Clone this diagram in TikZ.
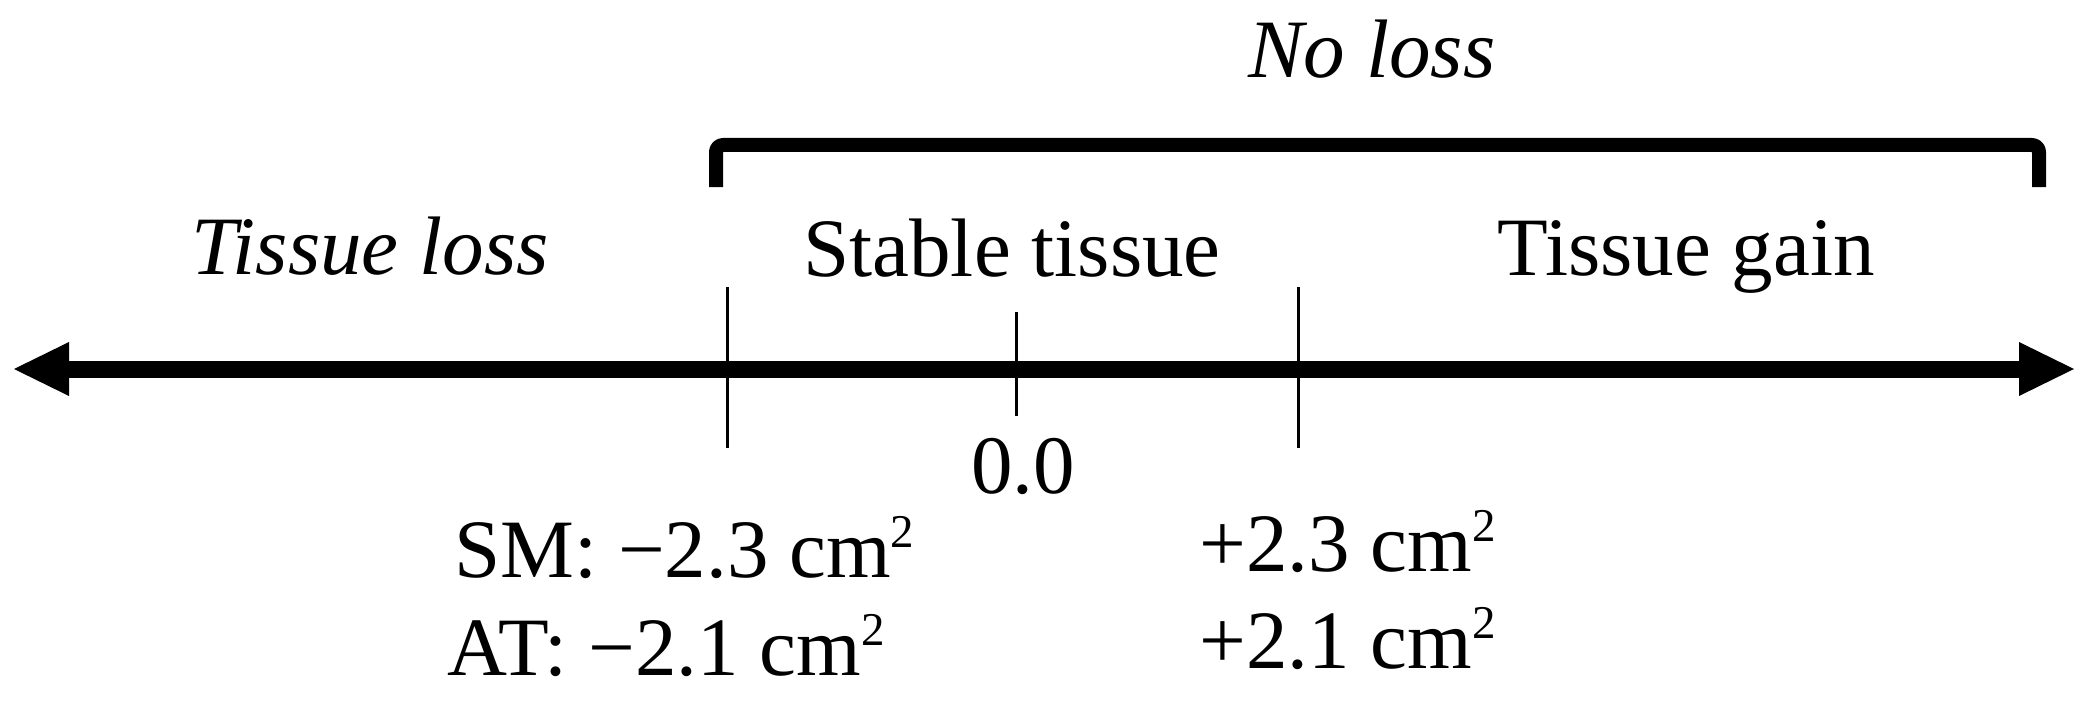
\documentclass[tikz,border=0pt]{standalone}
\usepackage{fontspec}
\setmainfont{Liberation Serif}
\newcommand\sqtwo{\raisebox{15pt}{\fontsize{23.5pt}{26pt}\selectfont 2}}
\begin{document}
\begin{tikzpicture}[x=0.5pt,y=-0.5pt,
  lbl/.style={inner sep=0pt, font=\fontsize{41.5pt}{48pt}\selectfont},
  axisline/.style={line width=8.5pt, line cap=butt},
  tickline/.style={line width=1.5pt},
  bracketline/.style={line width=7pt, line cap=butt, line join=round, rounded corners=3.5pt}]
\useasboundingbox (0,0) rectangle (2089,701);
% axis
\coordinate (Ltip) at (14,369);
\coordinate (Lback) at (69,369);
\coordinate (Rtip) at (2074,369);
\coordinate (Rback) at (2019,369);
\draw[axisline] (Lback) -- (Rback);
\fill (Ltip) -- (69,342) -- (69,396) -- cycle;
\fill (Rtip) -- (2019,342) -- (2019,396) -- cycle;
% ticks
\draw[tickline] (727,287) -- (727,448);
\draw[tickline] (1016,312) -- (1016,416);
\draw[tickline] (1298,287) -- (1298,448);
% bracket
\draw[bracketline] (716,187) -- (716,145) -- (2039,145) -- (2039,187);
% labels
\node[lbl, anchor=base] (noloss) at (1372,78) {\itshape No loss};
\node[lbl, anchor=base] (tloss) at (370,274) {\itshape Tissue loss};
\node[lbl, anchor=base] (stable) at (1012,276) {Stable tissue};
\node[lbl, anchor=base] (gain) at (1686,275) {Tissue gain};
\node[lbl, anchor=base] (zero) at (1023,493) {0.0};
\node[lbl, anchor=base west] (sm) at (454,577) {SM: −2.3 cm\sqtwo};
\node[lbl, anchor=base west] (at) at (447,675) {AT: −2.1 cm\sqtwo};
\node[lbl, anchor=base west] (smp) at (1199,571) {+2.3 cm\sqtwo};
\node[lbl, anchor=base west] (atp) at (1199,668) {+2.1 cm\sqtwo};
\end{tikzpicture}
\end{document}
